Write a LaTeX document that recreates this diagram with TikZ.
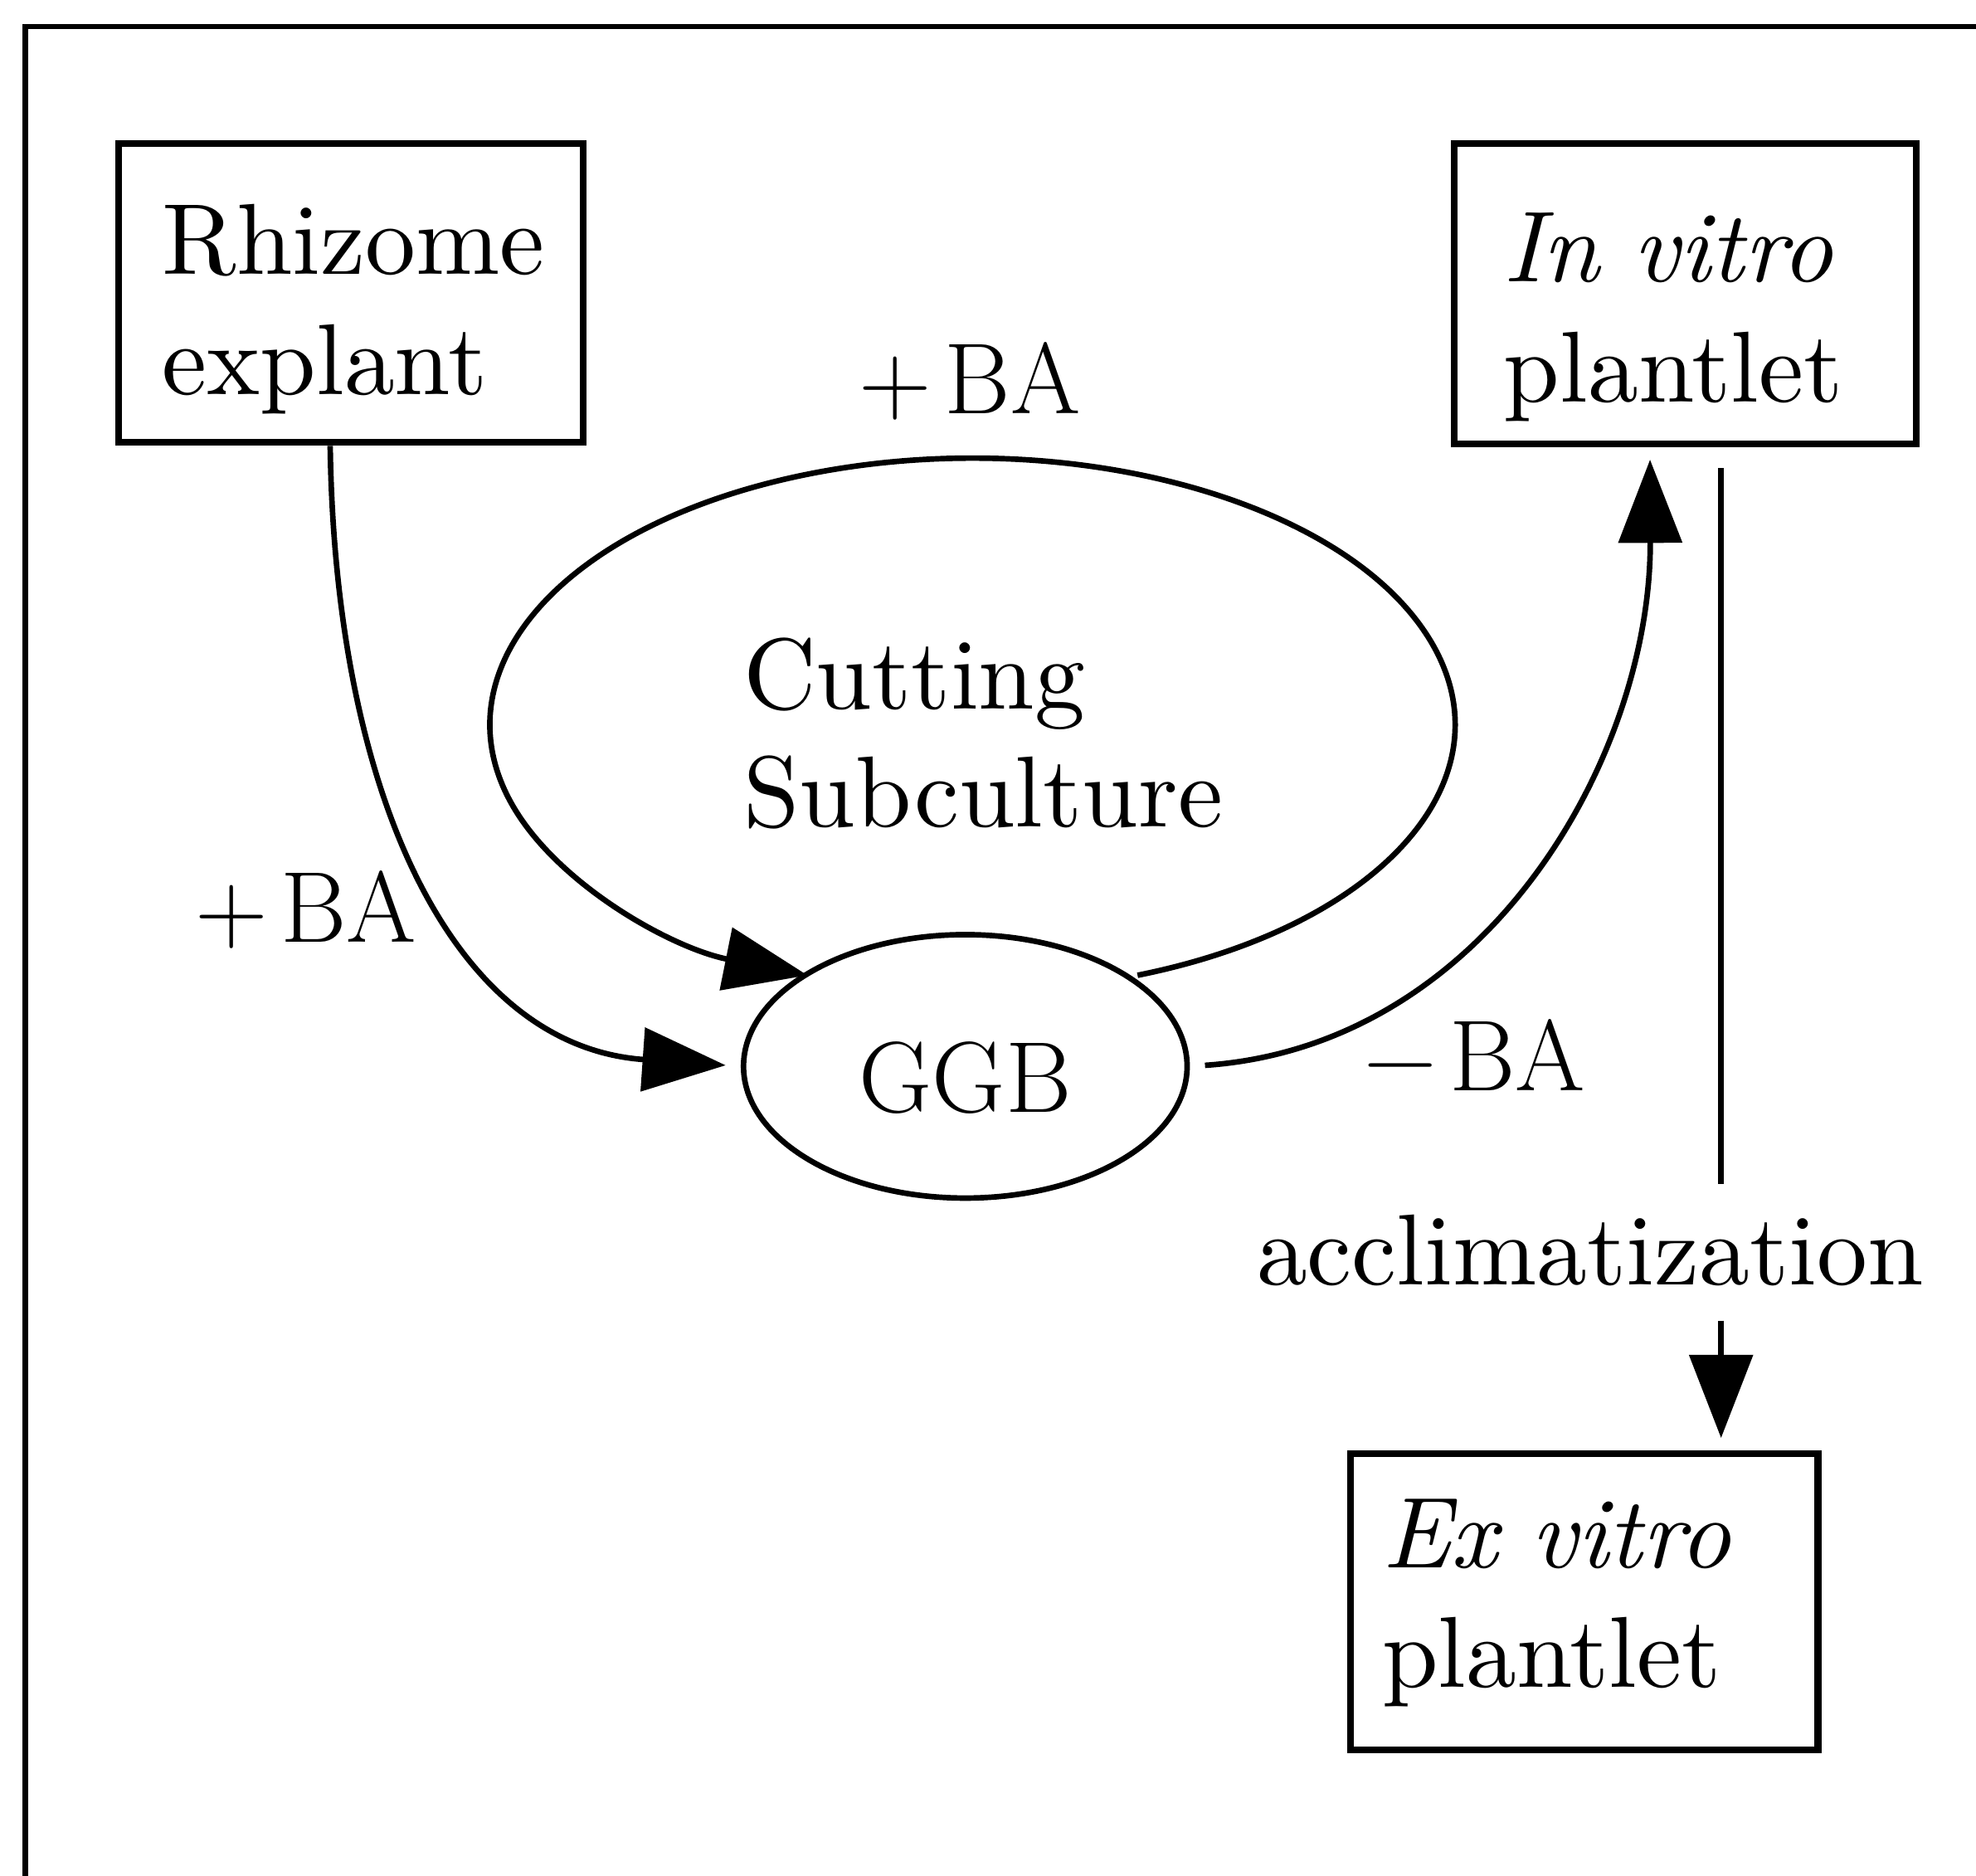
\documentclass[tikz,border=0pt]{standalone}
\usepackage{fontspec}
\newfontfamily\wideserif{lmroman10-regular.otf}[ItalicFont=lmroman10-italic.otf]
\usetikzlibrary{arrows.meta,shapes.geometric,calc}
\begin{document}
\begin{tikzpicture}[x=0.5pt,y=-0.5pt,
  every node/.style={font=\fontsize{40}{47.5}\selectfont},
  widetext/.style={font=\wideserif\fontsize{40}{47.5}\selectfont},
  boxnode/.style={draw, line width=2.7pt, rectangle, inner ysep=0pt, align=left, widetext},
  conn/.style={line width=2.2pt, -{Triangle[length=33pt,width=25pt]}},
  plain/.style={line width=2.2pt},
  lbl/.style={inner sep=0pt, anchor=base west}
]
\useasboundingbox (0,0) rectangle (1568,1488);
% outer frame (only top and left edges visible)
\draw[plain] (20,1530) -- (20,21) -- (1610,21);

% boxes
\node[boxnode, inner xsep=17.4pt, text width=149.7pt, minimum height=118.5pt] (rhiz) at (278.5,232.5)
  {\rule{0pt}{40.5pt}Rhizome\\explant};
\node[boxnode, inner xsep=19.7pt, text width=143.9pt, minimum height=119pt] (ivp) at (1337.3,233)
  {\rule{0pt}{45.9pt}\textit{In vitro}\\plantlet};
\node[boxnode, inner xsep=12.5pt, text width=160.4pt, minimum height=117.5pt] (exv) at (1257.2,1271)
  {\rule{0pt}{27.8pt}\textit{Ex vitro}\\plantlet};

% GGB ellipse
\node[draw, ellipse, line width=2.2pt, minimum width=176pt, minimum height=104.5pt, inner sep=0pt,
  text height=36.4pt, text depth=0pt] (ggb) at (766,846) {GGB};

% loop text
\node[inner sep=0pt, align=left, anchor=west, font=\wideserif\fontsize{40}{46.6}\selectfont] (cut) at (589.5,581.8)
  {Cutting\\Subculture};

% labels
\node[lbl] (baTop) at (681.5,328.3) {+\kern5pt BA};
\node[lbl] (baLeft) at (154.5,747.5) {+\kern5pt BA};
\node[lbl] (baMinus) at (1082,865.4) {−\kern5pt BA};
\node[lbl, widetext] (acc) at (997,1019) {acclimatization};

% helper coordinates
\coordinate (loopc) at (771.7,575);
\coordinate (vx) at (1365.7,0);

% connectors
\draw[conn, shorten >=6pt] ([xshift=-8.25pt]rhiz.south) .. controls (266,632) and (360,830) .. (ggb.west);
\draw[conn] ($(loopc)+(70:382.9 and 211.5)$) arc[start angle=70, end angle=-250, x radius=382.9, y radius=211.5];
\draw[conn, shorten <=6pt, shorten >=5pt] (ggb.east) .. controls (1180,830) and (1310,600) .. ([xshift=-14pt]ivp.south);
\draw[plain, shorten <=8.4pt, shorten >=11.75pt] (ivp.south -| vx) -- (acc.north -| vx);
\draw[conn, shorten <=13.75pt, shorten >=5pt] (acc.south -| vx) -- (exv.north -| vx);
\end{tikzpicture}
\end{document}
